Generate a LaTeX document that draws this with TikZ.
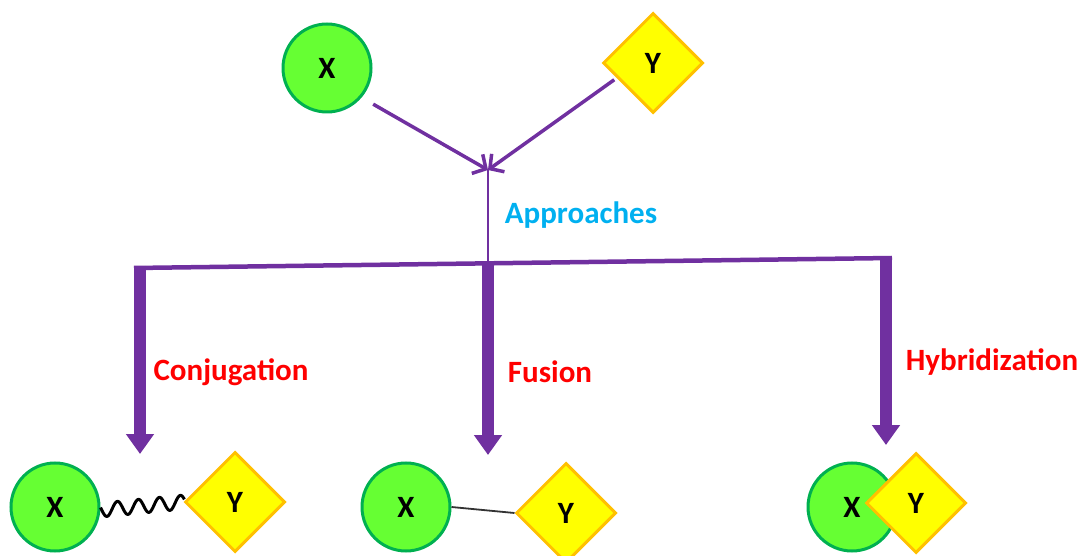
\documentclass[tikz,border=0pt]{standalone}
\usepackage{fontspec}
\setmainfont{Carlito}
\usetikzlibrary{arrows.meta,shapes.geometric,calc}
\definecolor{xfill}{HTML}{66FF33}
\definecolor{xline}{HTML}{00B050}
\definecolor{yfill}{HTML}{FFFF00}
\definecolor{yline}{HTML}{FFC000}
\definecolor{route}{HTML}{7030A0}
\definecolor{headcol}{HTML}{00B0F0}
\definecolor{methcol}{HTML}{FF0000}
\tikzset{
  xball/.style={circle, draw=xline, fill=xfill, line width=3pt, minimum size=88pt,
    inner sep=0pt, font=\bfseries\fontsize{31}{31}\selectfont},
  ygem/.style={diamond, draw=yline, fill=yfill, line width=3pt, minimum size=100pt,
    inner sep=0pt, aspect=1, font=\bfseries\fontsize{31}{31}\selectfont},
  feed/.style={draw=route, line width=3.5pt, -{Straight Barb[length=10pt,width=22pt]}},
  bus/.style={draw=route, line width=4.5pt},
  stem/.style={draw=route, line width=2.5pt},
  branch/.style={draw=route, line width=12pt, -{Triangle[width=27pt,length=20pt]}},
  headlbl/.style={text=headcol, font=\bfseries\fontsize{31}{31}\selectfont},
  methlbl/.style={text=methcol, font=\bfseries\fontsize{31}{31}\selectfont},
}
\begin{document}
\begin{tikzpicture}[x=1pt, y=-1pt]
\useasboundingbox (0,0) rectangle (1080,556);

% the two partners
\node[xball] (xtop) at (327,68) {X};
\node[ygem] (ytop) at (653,63) {Y};

% merge point and the routing bus
\coordinate (merge) at (488,170);
\coordinate (hub) at (488,264);
\coordinate (busl) at (134,268);
\coordinate (busr) at (892,258);

\path[feed] ($(xtop.south east)+(14,4)$) -- (merge);
\path[feed] ($(ytop.south west)+(-13,-9)$) -- (merge);
\path[stem] (merge) -- (hub);
\path[bus] (busl) -- (busr);

\node[headlbl] (appr) at (581,215) {Approaches};

% three branches
\coordinate (b1s) at (140,266);
\coordinate (b1e) at (140,454);
\coordinate (b2s) at (488,264);
\coordinate (b2e) at (488,455);
\coordinate (b3s) at (886,256);
\coordinate (b3e) at (886,445);
\path[branch] (b1s) -- (b1e);
\path[branch] (b2s) -- (b2e);
\path[branch] (b3s) -- (b3e);

\node[methlbl] (conj) at (231,372) {Conjugation};
\node[methlbl] (fus) at (550,372) {Fusion};
\node[methlbl] (hyb) at (992,362) {Hybridization};

% conjugation: linked through a flexible chain (four full waves)
\node[xball] (xa) at (55,507) {X};
\node[ygem] (ya) at (235,502) {Y};
\draw[line width=3pt, line join=round]
  let \p1 = ($(xa.east)+(0,3)$), \p2 = ($(ya.west)+(1,0)$) in
  plot[variable=\t, domain=0:1, samples=120, smooth]
    ({\x1+(\x2-\x1)*\t}, {\y1+(\y2-\y1)*\t - 7*sin(4*360*\t - 20)});

% fusion: direct bond
\node[xball] (xb) at (406,507) {X};
\node[ygem] (yb) at (566,513) {Y};
\draw[line width=1.8pt, black!80] (xb.east) -- (yb.west);

% hybridization: overlapping partners
\node[xball] (xc) at (852,507) {X};
\node[ygem] (yc) at (916,503) {Y};
\end{tikzpicture}
\end{document}
